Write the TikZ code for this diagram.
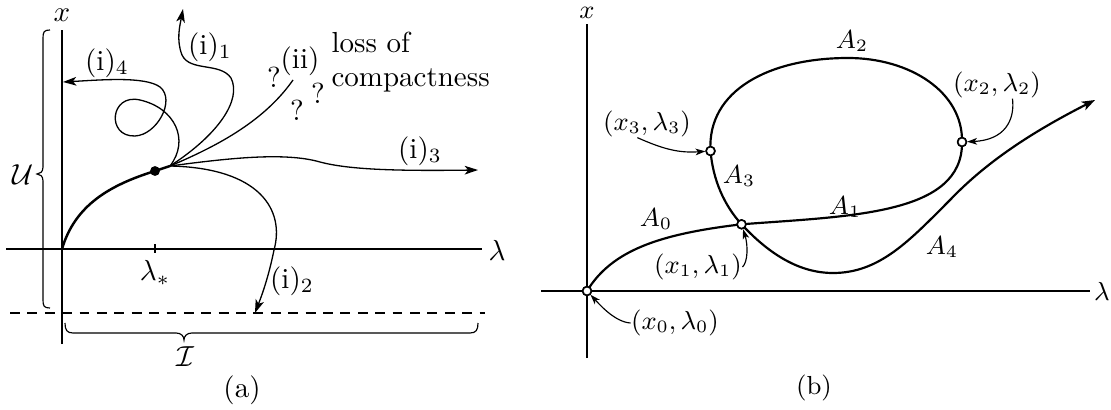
\documentclass[tikz,border=0pt]{standalone}
\usetikzlibrary{arrows.meta}
\begin{document}
\begin{tikzpicture}[x=0.345pt,y=-0.345pt,
  axis/.style={line width=0.4pt},
  branch/.style={line width=0.45pt},
  tipA/.style={-{Stealth[length=4.6pt,width=3pt,inset=1.2pt]}},
  boldc/.style={line width=0.85pt},
  curveB/.style={line width=0.75pt},
  note/.style={line width=0.4pt,-{Stealth[length=3.4pt,width=2.3pt,inset=0.9pt]}},
  pt/.style={circle,draw,fill=white,line width=0.55pt,inner sep=0pt,minimum size=3pt},
  dot/.style={circle,fill=black,inner sep=0pt,minimum size=3.4pt},
  lbl/.style={inner sep=0pt},
  lblb/.style={inner sep=0pt,font=\small}]
\useasboundingbox (0,0) rectangle (1111,410);

% ---------------- panel (a) ----------------
\draw[axis] (62,344) -- (62,30);
\draw[axis] (6,249) -- (482,249);
\draw[axis] (155,244) -- (155,253);
\draw[axis,dash pattern=on 3.4pt off 2.6pt] (10,313) -- (485,313);

\node[lbl] (xa) at (62,15) {$x$};
\node[lbl] (lama) at (497,250) {$\lambda$};
\node[lbl] (lamstar) at (155,273) {$\lambda_*$};

\coordinate (O) at (62,249);
\coordinate (B) at (170,166);
\node[dot] (star) at (155,171) {};
\draw[boldc] (O) .. controls (75,205) and (110,185) .. (star.center) -- (B);

\coordinate (e1) at (183,9);
\coordinate (e2) at (255,313);
\coordinate (e3) at (478,170);
\coordinate (e4) at (63,82);
\coordinate (e5) at (293,80);

% (i)_1
\draw[branch,tipA] (B) .. controls (218,135) and (242,100) .. (231,78)
  .. controls (220,62) and (190,72) .. (182,55)
  .. controls (176,40) and (180,25) .. (e1);
% (i)_4 with loop
\draw[branch,tipA] (B) .. controls (190,140) and (175,108) .. (140,100)
  .. controls (110,93) and (106,137) .. (135,136)
  .. controls (157,135) and (176,100) .. (160,87)
  .. controls (145,76) and (100,80) .. (e4);
% (ii)
\draw[branch] (B) .. controls (220,145) and (265,120) .. (e5);
% (i)_3
\draw[branch,tipA] (B) .. controls (230,158) and (285,152) .. (320,162)
  .. controls (350,170) and (400,171) .. (e3);
% (i)_2
\draw[branch,tipA] (B) .. controls (260,168) and (285,210) .. (274,250)
  .. controls (268,280) and (260,300) .. (e2);

\node[lbl] (i1) at (210,47) {(i)$_1$};
\node[lbl] (i4) at (107,63) {(i)$_4$};
\node[lbl] (ii) at (300,61) {(ii)};
\node[lbl] (q1) at (274,77) {?};
\node[lbl] (q2) at (297,110) {?};
\node[lbl] (q3) at (318,93) {?};
\node[lbl,anchor=base west] (loss) at (331,53) {loss of};
\node[lbl,anchor=base west] (comp) at (331,87) {compactness};
\node[lbl] (i3) at (420,151) {(i)$_3$};
\node[lbl] (i2) at (292,281) {(i)$_2$};

% braces
\draw[axis] (50,30) .. controls (44,30) and (43,32) .. (43,38) -- (43,167)
  .. controls (43,172) and (40,174) .. (37,174)
  .. controls (40,174) and (43,176) .. (43,181) -- (43,300)
  .. controls (43,306) and (44,308) .. (50,308);
\node[lbl] (U) at (23,175) {$\mathcal{U}$};
\draw[axis] (65,323) .. controls (65,330) and (67,333) .. (73,333) -- (176,333)
  .. controls (181,333) and (184,336) .. (184,340)
  .. controls (184,336) and (187,333) .. (192,333) -- (470,333)
  .. controls (476,333) and (478,330) .. (478,323);
\node[lbl] (I) at (185,357) {$\mathcal{I}$};

\node[lbl] (capa) at (242,390) {(a)};

% ---------------- panel (b) ----------------
\draw[axis] (587,358) -- (587,24);
\draw[axis] (541,291) -- (1090,291);
\node[lblb] (xb) at (587,13) {$x$};
\node[lblb] (lamb) at (1102,291) {$\lambda$};

\node[pt] (P0) at (587,291) {};
\node[pt] (P1) at (741.5,224.3) {};
\node[pt] (P2) at (962,142) {};
\node[pt] (P3) at (710.5,151) {};
\coordinate (tipB) at (1095,100);

% A0
\draw[curveB] (P0.center) .. controls (612,250) and (660,234) .. (P1.center);
% A1
\draw[curveB] (P1.center) .. controls (850,216) and (963,215) .. (P2.center);
% A2
\draw[curveB] (P2.center) .. controls (963,92) and (910,58) .. (848,58)
  .. controls (770,58) and (707,90) .. (P3.center);
% A3
\draw[curveB] (P3.center) .. controls (713,180) and (724,205) .. (P1.center);
% A4
\draw[curveB,-{Stealth[length=4.5pt,width=3.2pt,inset=1.1pt]}] (P1.center)
  .. controls (770,255) and (800,273) .. (833,273)
  .. controls (880,273) and (910,240) .. (950,200)
  .. controls (990,158) and (1040,128) .. (tipB);
% points on top of the curves
\node[pt] at (P0) {};
\node[pt] at (P1) {};
\node[pt] at (P2) {};
\node[pt] at (P3) {};

\node[lblb] (A0) at (656,219) {$A_0$};
\node[lblb] (A1) at (845,207) {$A_1$};
\node[lblb] (A2) at (852,41) {$A_2$};
\node[lblb] (A3) at (739,176) {$A_3$};
\node[lblb] (A4) at (942,247) {$A_4$};

\node[lblb] (L0) at (675,323) {$(x_0,\lambda_0)$};
\node[lblb] (L1) at (698,267) {$(x_1,\lambda_1)$};
\node[lblb] (L2) at (997,85) {$(x_2,\lambda_2)$};
\node[lblb] (L3) at (647,124) {$(x_3,\lambda_3)$};

\draw[note] (L0.west) .. controls (615,322) and (600,305) .. (P0);
\draw[note] (L1.east) .. controls (748,262) and (748,245) .. (P1);
\draw[note] ([xshift=12pt]L3.south west) .. controls (665,150) and (680,153) .. (P3);
\draw[note] ([xshift=-10pt]L2.south east) .. controls (1015,120) and (1005,140) .. (P2);

\node[lblb] (capb) at (814,388) {(b)};
\end{tikzpicture}
\end{document}
